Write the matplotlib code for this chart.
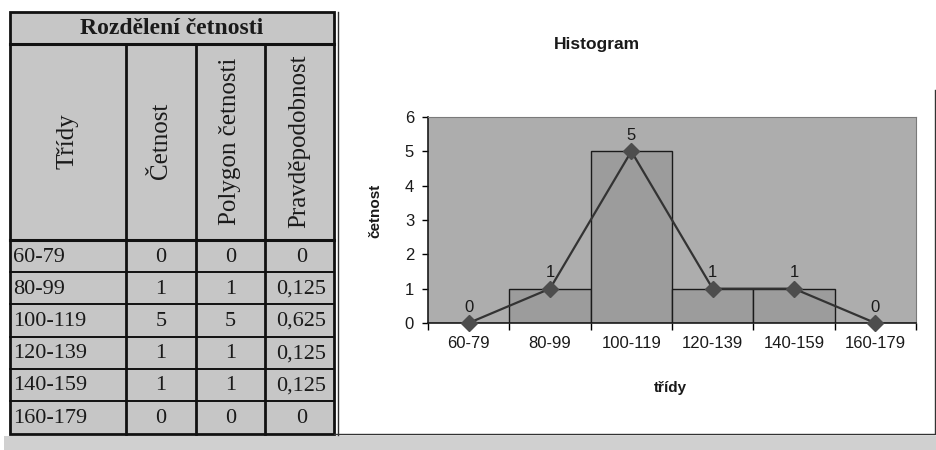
import matplotlib
matplotlib.use("Agg")
import matplotlib.pyplot as plt
from matplotlib.patches import Rectangle

# ---------------------------------------------------------------------------
# Data
# ---------------------------------------------------------------------------
TABLE_TITLE = "Rozdělení četnosti"
HEADERS = ["Třídy", "Četnost", "Polygon četnosti", "Pravděpodobnost"]
TRIDY = ["60-79", "80-99", "100-119", "120-139", "140-159", "160-179"]
CETNOST = [0, 1, 5, 1, 1, 0]
POLYGON = [0, 1, 5, 1, 1, 0]
PRAVDEPODOBNOST = ["0", "0,125", "0,625", "0,125", "0,125", "0"]

CHART_TITLE = "Histogram"
X_LABEL = "třídy"
Y_LABEL = "četnost"
Y_TICKS = [0, 1, 2, 3, 4, 5, 6]

# ---------------------------------------------------------------------------
# Layout (pixels)
# ---------------------------------------------------------------------------
W, H = 937, 450
COL_X = [10, 126, 196, 265, 334]
ROW_Y = [12, 44, 240, 272, 304, 337, 369, 401, 434]

SERIF = "Liberation Serif"
SANS = "Liberation Sans"
CELL = "#c6c6c6"
INK = "#1a1a1a"

fig = plt.figure(figsize=(W / 100, H / 100), dpi=100)
fig.patch.set_facecolor("white")

# background canvas in pixel coordinates
bg = fig.add_axes([0, 0, 1, 1])
bg.set_xlim(0, W)
bg.set_ylim(H, 0)
bg.axis("off")

# gray strip at the bottom and chart frame
bg.add_patch(Rectangle((4, 436), W - 4, H - 436, facecolor="#d0d0d0", edgecolor="none"))
bg.plot([334, 935, 935], [434, 434, 90], color="#333333", lw=1.0)

# table cells
bg.add_patch(Rectangle((COL_X[0], ROW_Y[0]), COL_X[-1] - COL_X[0], ROW_Y[-1] - ROW_Y[0],
                       facecolor=CELL, edgecolor="#111111", lw=2.0))
bg.plot([COL_X[-1] + 4] * 2, [ROW_Y[0], ROW_Y[-1] + 1], color="#333333", lw=1.0)
for y in ROW_Y[1:-1]:
    lw = 2.2 if y in (ROW_Y[1], ROW_Y[2]) else 1.4
    bg.plot([COL_X[0], COL_X[-1]], [y, y], color="#111111", lw=lw)
for x in COL_X[1:-1]:
    bg.plot([x, x], [ROW_Y[1], ROW_Y[-1]], color="#111111", lw=2.0)

bg.text((COL_X[0] + COL_X[-1]) / 2, (ROW_Y[0] + ROW_Y[1]) / 2 + 1, TABLE_TITLE,
        family=SERIF, fontsize=17, fontweight="bold", ha="center", va="center",
        color=INK)

for i, h in enumerate(HEADERS):
    cx = (COL_X[i] + COL_X[i + 1]) / 2
    cy = (ROW_Y[1] + ROW_Y[2]) / 2 - 1
    bg.text(cx, cy, h, family=SERIF, fontsize=18, rotation=90,
            ha="center", va="center", color=INK)

for r in range(len(TRIDY)):
    cy = (ROW_Y[r + 2] + ROW_Y[r + 3]) / 2 + 1
    vals = [TRIDY[r], str(CETNOST[r]), str(POLYGON[r]), PRAVDEPODOBNOST[r]]
    for c, v in enumerate(vals):
        if c == 0:
            bg.text(COL_X[0] + 3, cy, v, family=SERIF, fontsize=16,
                    ha="left", va="center", color=INK)
        else:
            bg.text((COL_X[c] + COL_X[c + 1]) / 2 + (2 if c == 3 else 0), cy, v,
                    family=SERIF, fontsize=16, ha="center", va="center", color=INK)

# ---------------------------------------------------------------------------
# Histogram chart
# ---------------------------------------------------------------------------
PX_L, PX_R, PX_T, PX_B = 428, 916, 117, 323
ax = fig.add_axes([PX_L / W, 1 - PX_B / H, (PX_R - PX_L) / W, (PX_B - PX_T) / H])
ax.set_facecolor("#adadad")

pos = list(range(len(TRIDY)))
ax.bar(pos, CETNOST, width=1.0, color="#9c9c9c", edgecolor=INK, lw=1.0, zorder=2)
ax.plot(pos, POLYGON, color="#333333", lw=1.6, marker="D", markersize=8,
        markerfacecolor="#4d4d4d", markeredgecolor="#4d4d4d", zorder=3, clip_on=False)
for x, v in zip(pos, POLYGON):
    ax.annotate(str(v), (x, v), xytext=(0, 6), textcoords="offset points",
                ha="center", va="bottom", family=SANS, fontsize=12, color=INK)

ax.set_xlim(-0.5, len(TRIDY) - 0.5)
ax.set_ylim(0, 6)
ax.set_yticks(Y_TICKS)
ax.set_xticks(pos)
ax.set_xticklabels(TRIDY)
ax.set_xticks([p - 0.5 for p in pos] + [len(TRIDY) - 0.5], minor=True)
ax.tick_params(axis="x", which="major", length=0, pad=9)
ax.tick_params(axis="x", which="minor", length=5, width=1.0, direction="out")
ax.tick_params(axis="y", length=4, width=1.0, direction="out", pad=6)
for lab in ax.get_xticklabels() + ax.get_yticklabels():
    lab.set_family(SANS)
    lab.set_fontsize(12)
    lab.set_color(INK)

for s in ("left", "bottom"):
    ax.spines[s].set_color(INK)
    ax.spines[s].set_linewidth(1.2)
for s in ("top", "right"):
    ax.spines[s].set_color("#7a7a7a")
    ax.spines[s].set_linewidth(0.8)

bg.text(597, 45, CHART_TITLE, family=SANS, fontsize=12.5, fontweight="bold",
        ha="center", va="center", color=INK)
bg.text(375, 211, Y_LABEL, family=SANS, fontsize=11, fontweight="bold",
        rotation=90, ha="center", va="center", color=INK)
bg.text(670, 388, X_LABEL, family=SANS, fontsize=11, fontweight="bold",
        ha="center", va="center", color=INK)

fig.savefig("out.png", dpi=100)
